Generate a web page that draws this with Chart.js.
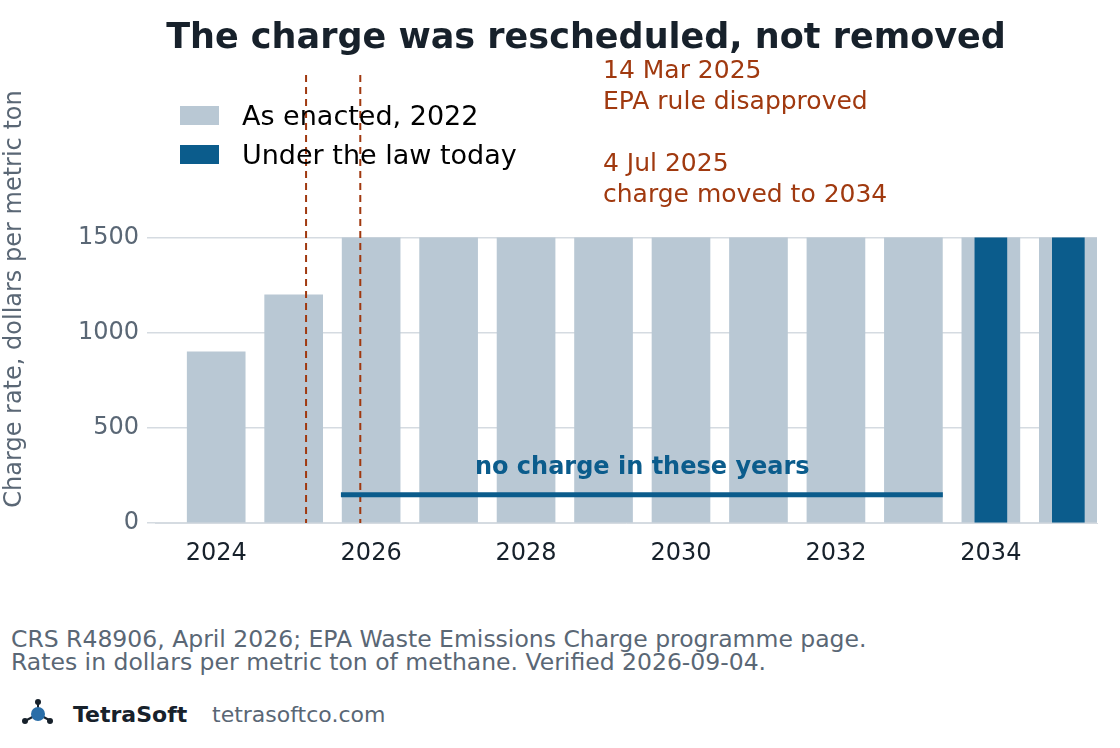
<!DOCTYPE html>
<html><head><meta charset="utf-8">
<script src="https://cdn.jsdelivr.net/npm/chart.js@4/dist/chart.umd.min.js"></script>
<style>
body{margin:0;width:1120px;height:748px;background:#fff;font-family:"DejaVu Sans",sans-serif;position:relative;overflow:hidden}
#wrap{position:absolute;left:0;top:0;width:1120px;height:590px}
.abs{position:absolute;white-space:nowrap}
</style></head><body>
<div id="wrap"><canvas id="c"></canvas></div>
<div class="abs" style="left:0;width:1172px;text-align:center;top:16px;font-size:35px;font-weight:bold;color:#17212b">The charge was rescheduled, not removed</div>
<div class="abs" style="left:180px;top:106px;width:39px;height:19px;background:#b9c8d4"></div>
<div class="abs" style="left:242px;top:100px;font-size:27px;color:#000">As enacted, 2022</div>
<div class="abs" style="left:180px;top:145px;width:39px;height:19px;background:#0b5c8c"></div>
<div class="abs" style="left:242px;top:139px;font-size:27px;color:#000">Under the law today</div>
<div class="abs" style="left:603px;top:54px;font-size:25px;line-height:31px;color:#a0390f">14 Mar 2025<br>EPA rule disapproved</div>
<div class="abs" style="left:603px;top:147px;font-size:25px;line-height:31px;color:#a0390f">4 Jul 2025<br>charge moved to 2034</div>
<div class="abs" style="left:11px;top:628px;font-size:23.5px;line-height:23px;color:#5a6775">CRS R48906, April 2026; EPA Waste Emissions Charge programme page.<br>Rates in dollars per metric ton of methane. Verified 2026-09-04.</div>
<svg class="abs" style="left:20px;top:698px" width="36" height="30"><g stroke="#17212b" stroke-width="2"><line x1="18" y1="5" x2="18" y2="16"/><line x1="5" y1="23" x2="18" y2="16"/><line x1="31" y1="23" x2="18" y2="16"/></g><circle cx="18" cy="16" r="7" fill="#2a6ea8"/><circle cx="18" cy="4" r="3" fill="#17212b"/><circle cx="5" cy="23" r="3" fill="#17212b"/><circle cx="30" cy="23" r="3" fill="#17212b"/></svg>
<div class="abs" style="left:73px;top:702px;font-size:22px;font-weight:bold;color:#17212b">TetraSoft</div>
<div class="abs" style="left:212px;top:702px;font-size:22px;color:#5a6775">tetrasoftco.com</div>
<script>
const years=[2024,2025,2026,2027,2028,2029,2030,2031,2032,2033,2034,2035];
const enacted=[900,1200,1500,1500,1500,1500,1500,1500,1500,1500,1500,1500];
const todayYears=[2034,2035];
const todayVals=[1500,1500];
const xTicks=[2024,2026,2028,2030,2032,2034];
const yTicks=[0,500,1000,1500];
const eventLines=[2025.16,2025.86];
const gapSpan=[2025.61,2033.38];
const gapY=148;
const grey='#5a6775';
Chart.defaults.font.family='"DejaVu Sans"';
const ann={id:'ann',afterDatasetsDraw(ch){
 const {ctx,scales:{x,y},chartArea:a}=ch;ctx.save();
 ctx.strokeStyle='#a0390f';ctx.lineWidth=2;ctx.setLineDash([7,5]);
 eventLines.forEach(v=>{const px=x.getPixelForValue(v);ctx.beginPath();ctx.moveTo(px,a.top);ctx.lineTo(px,a.bottom);ctx.stroke();});
 ctx.setLineDash([]);ctx.strokeStyle='#0b5c8c';ctx.lineWidth=5;
 const yy=y.getPixelForValue(gapY);ctx.beginPath();ctx.moveTo(x.getPixelForValue(gapSpan[0]),yy);ctx.lineTo(x.getPixelForValue(gapSpan[1]),yy);ctx.stroke();
 ctx.fillStyle='#0b5c8c';ctx.font='bold 24px "DejaVu Sans"';ctx.textAlign='center';
 ctx.fillText('no charge in these years',x.getPixelForValue(2029.5),y.getPixelForValue(300)+8);
 ctx.restore();}};
new Chart(document.getElementById('c'),{type:'bar',
 data:{datasets:[
  {label:'Under the law today',data:todayYears.map((v,i)=>({x:v,y:todayVals[i]})),backgroundColor:'#0b5c8c',barThickness:32,grouped:false,order:0},
  {label:'As enacted, 2022',data:years.map((v,i)=>({x:v,y:enacted[i]})),backgroundColor:'#b9c8d4',barThickness:58,grouped:false,order:1}]},
 options:{responsive:true,maintainAspectRatio:false,animation:false,
  layout:{padding:{top:75,right:23,left:0,bottom:0}},
  plugins:{legend:{display:false},tooltip:{enabled:false}},
  scales:{
   x:{type:'linear',offset:false,min:2023.21,max:2035.37,grid:{display:false},border:{color:'#d5dbe1'},
    afterBuildTicks:s=>{s.ticks=xTicks.map(v=>({value:v}));},
    ticks:{font:{size:24},color:'#17212b',padding:8,callback:v=>String(v)},
    afterFit:s=>{s.height=67;}},
   y:{min:0,max:2357,grid:{color:'#d5dbe1',lineWidth:1.5},border:{display:false},
    afterBuildTicks:s=>{s.ticks=yTicks.map(v=>({value:v}));},
    ticks:{font:{size:24},color:grey,padding:8,callback:v=>String(v)},
    title:{display:true,text:'Charge rate, dollars per metric ton',font:{size:24},color:grey,padding:{top:0,bottom:12}},
    afterFit:s=>{s.width=155;}}}},
 plugins:[ann]});
</script></body></html>
